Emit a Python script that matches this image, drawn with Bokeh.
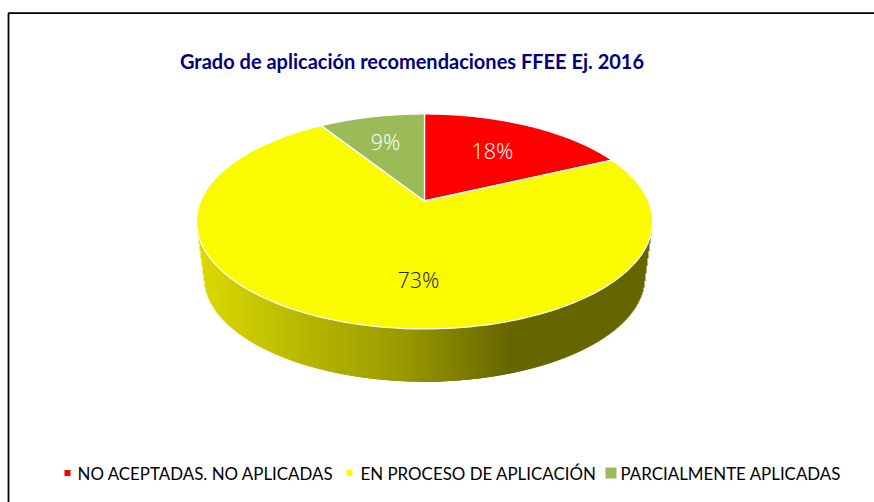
import numpy as np
from bokeh.plotting import figure
from bokeh.models import Range1d
from bokeh.core.properties import value
from bokeh.embed import file_html
from bokeh.resources import INLINE

title = "Grado de aplicación recomendaciones FFEE Ej. 2016"
categories = ["NO ACEPTADAS. NO APLICADAS", "EN PROCESO DE APLICACIÓN", "PARCIALMENTE APLICADAS"]
shares = [18, 73, 9]
colors = ["#FF0000", "#FBFB00", "#9BBB59"]
label_colors = ["#FFFFFF", "#262626", "#FFFFFF"]

W, H = 874, 502
p = figure(width=W, height=H, x_range=Range1d(0, W), y_range=Range1d(H, 0),
           output_backend="svg", toolbar_location=None, min_border=0,
           outline_line_color=None)
p.axis.visible = False
p.grid.visible = False
p.background_fill_color = "white"

# frame
p.line([8.0, 8.0, 880], [510, 12.7, 12.7], line_color="#000000", line_width=1.8)

# projective pie: centre of the disc lands on the apex
CX, CY = 424.0, 200.5
A, B, K = 223.9, 103.6, 0.19

def project(theta):
    u, v = np.sin(theta), np.cos(theta)
    d = 1 + K * v
    return CX + A * u / d, CY - B * v / d

EY, RX, RY = 220.7, 228.0, 107.5
DEPTH, RX2, RY2 = 56.5, 220.5, 104.0

stops_x = [197, 205, 300, 400, 510, 652]
stops_c = [(222, 222, 0), (216, 216, 0), (184, 184, 0), (154, 154, 0), (102, 102, 0), (102, 102, 0)]

def strip(x, left, right):
    xm = x + 0.5
    nx = min(abs(xm - CX) / RX, 1)
    top = EY + RY * np.sqrt(1 - nx ** 2)
    bot = top
    for t in np.linspace(0, 1, 60):
        rx = RX + (RX2 - RX) * t
        ry = RY + (RY2 - RY) * t
        if abs(xm - CX) < rx:
            bot = max(bot, EY + DEPTH * t + ry * np.sqrt(1 - ((xm - CX) / rx) ** 2))
    c = [int(round(np.interp(xm, stops_x, [s[i] for s in stops_c]))) for i in range(3)]
    col = "#%02x%02x%02x" % tuple(c)
    p.quad(left=[left], right=[right], top=[top - 1], bottom=[bot], fill_color=col,
           fill_alpha=1.0, line_color=None)

# strips overlap so the band has no seams: each is painted over its inner neighbour
for x in np.arange(197.0, CX, 1.0):
    strip(x, x, x + 3)
for x in np.arange(651.0, CX - 1, -1.0):
    strip(x, x - 3, x + 1)

fracs = np.cumsum([0] + shares) / sum(shares)
for i in range(len(shares)):
    th = np.linspace(fracs[i], fracs[i + 1], 160) * 2 * np.pi
    ex, ey = project(th)
    p.patch(np.r_[CX, ex], np.r_[CY, ey], fill_color=colors[i], fill_alpha=1.0,
            line_color="white", line_width=1.3)

lx = [492, 418, 385]
ly = [150, 278.5, 141]
for i in range(3):
    p.text([lx[i]], [ly[i]], text=[f"{shares[i]}%"], text_color=label_colors[i],
           text_font=value("Open Sans Light, Open Sans"), text_font_size="21.5px",
           text_align="center", text_baseline="middle")

p.text([179.5], [60], text=[title], text_color="#000080", text_font=value("Lato"),
       text_font_style="bold", text_font_size="20px", text_align="left", text_baseline="middle")

mx = [67, 349, 610.5]
ms = [6, 6, 11]
tx = [77, 360, 620]
for i in range(3):
    p.quad(left=[mx[i] - ms[i] / 2], right=[mx[i] + ms[i] / 2],
           top=[472.5 - ms[i] / 2], bottom=[472.5 + ms[i] / 2],
           fill_color=colors[i], fill_alpha=1.0, line_color=None)
    p.text([tx[i]], [473], text=[categories[i]], text_color="#000000",
           text_font=value("Lato"), text_font_size="16.9px",
           text_align="left", text_baseline="middle")

open("out.html", "w").write(file_html(p, INLINE))
